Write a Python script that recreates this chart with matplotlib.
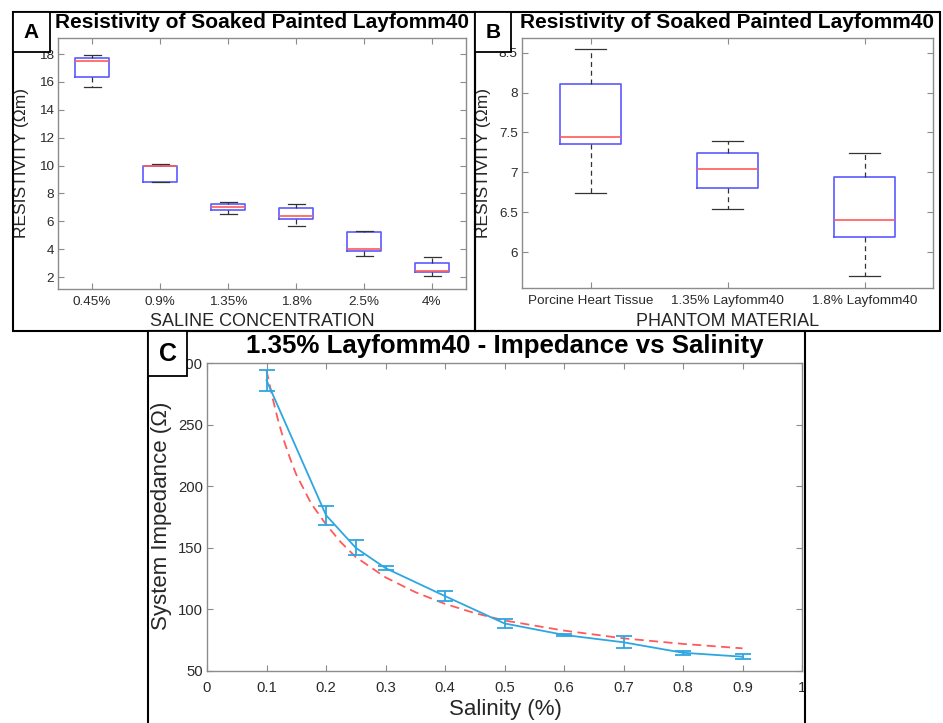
import matplotlib
matplotlib.use("Agg")
import matplotlib.pyplot as plt
from matplotlib.patches import Rectangle

plt.rcParams['font.family'] = ['Liberation Sans', 'DejaVu Sans']

# ---------------- Data ----------------
# Panel A: resistivity vs saline concentration (box stats)
a_labels = ['0.45%', '0.9%', '1.35%', '1.8%', '2.5%', '4%']
a_whislo = [15.63, 8.80, 6.55, 5.69, 3.53, 2.05]
a_q1     = [16.37, 8.83, 6.81, 6.19, 3.84, 2.36]
a_med    = [17.52, 9.95, 7.05, 6.41, 4.01, 2.46]
a_q3     = [17.69, 10.00, 7.25, 6.93, 5.23, 3.03]
a_whishi = [17.90, 10.12, 7.41, 7.25, 5.33, 3.46]
a_yticks = [2, 4, 6, 8, 10, 12, 14, 16, 18]

# Panel B: resistivity vs phantom material (box stats)
b_labels = ['Porcine Heart Tissue', '1.35% Layfomm40', '1.8% Layfomm40']
b_whislo = [6.746, 6.546, 5.696]
b_q1     = [7.358, 6.808, 6.187]
b_med    = [7.446, 7.046, 6.396]
b_q3     = [8.108, 7.246, 6.946]
b_whishi = [8.546, 7.396, 7.246]
b_yticks = [6, 6.5, 7, 7.5, 8, 8.5]
b_yticklabels = ['6', '6.5', '7', '7.5', '8', '8.5']

# Panel C: impedance vs salinity
c_x    = [0.1, 0.2, 0.25, 0.3, 0.4, 0.5, 0.6, 0.7, 0.8, 0.9]
c_y    = [286.0, 176.5, 150.0, 133.5, 110.8, 88.6, 79.3, 73.3, 64.8, 61.6]
c_err  = [8.4, 7.7, 6.0, 1.6, 4.2, 3.9, 0.9, 4.9, 1.5, 1.9]
fit_x  = [0.1, 0.11, 0.12, 0.13, 0.14, 0.15, 0.175, 0.2, 0.225, 0.25, 0.3,
          0.35, 0.4, 0.45, 0.5, 0.6, 0.7, 0.8, 0.9]
fit_y  = [294.0, 272.0, 252.5, 236.0, 222.0, 209.5, 186.0, 169.0, 154.5, 142.5,
          126.0, 114.0, 104.5, 97.0, 91.0, 82.8, 76.5, 72.0, 68.4]
c_xticks = [0, 0.1, 0.2, 0.3, 0.4, 0.5, 0.6, 0.7, 0.8, 0.9, 1]
c_xticklabels = ['0', '0.1', '0.2', '0.3', '0.4', '0.5', '0.6', '0.7', '0.8', '0.9', '1']
c_yticks = [50, 100, 150, 200, 250, 300]

# ---------------- Figure ----------------
W, H = 943, 723
fig = plt.figure(figsize=(W / 100, H / 100), dpi=100)


def ax_rect(l, t, r, b):
    return [l / W, 1 - b / H, (r - l) / W, (b - t) / H]


def style_axes(ax, tick_fs, pad_x, pad_y):
    for s in ax.spines.values():
        s.set_color('#8c8c8c')
        s.set_linewidth(1.0)
    ax.tick_params(direction='in', top=True, right=True, length=4, width=0.8,
                   color='#8c8c8c', labelcolor='#2a2a2a', labelsize=tick_fs)
    ax.tick_params(axis='x', pad=pad_x)
    ax.tick_params(axis='y', pad=pad_y)


def box_stats(labels, lo, q1, med, q3, hi):
    return [dict(label=l, whislo=a, q1=b, med=c, q3=d, whishi=e)
            for l, a, b, c, d, e in zip(labels, lo, q1, med, q3, hi)]


box_kw = dict(
    showfliers=False, patch_artist=False,
    boxprops=dict(color='#5a5aff', linewidth=1.2),
    medianprops=dict(color='#ff5a5a', linewidth=1.2),
    whiskerprops=dict(color='#333333', linewidth=0.9, linestyle=(0, (4, 3))),
    capprops=dict(color='#333333', linewidth=0.9),
)

# Panel A
axA = fig.add_axes(ax_rect(58, 38, 466, 289))
statsA = box_stats(a_labels, a_whislo, a_q1, a_med, a_q3, a_whishi)
posA = list(range(1, len(a_labels) + 1))
axA.bxp(statsA, positions=posA, widths=0.5, **box_kw)
axA.set_xlim(0.5, len(a_labels) + 0.5)
axA.set_ylim(1.14, 19.15)
axA.set_yticks(a_yticks)
axA.set_xticks(posA)
axA.set_xticklabels(a_labels)
style_axes(axA, 9.7, 5, 3)

# Panel B
axB = fig.add_axes(ax_rect(522, 38, 933, 288))
statsB = box_stats(b_labels, b_whislo, b_q1, b_med, b_q3, b_whishi)
posB = list(range(1, len(b_labels) + 1))
axB.bxp(statsB, positions=posB, widths=0.45, **box_kw)
axB.set_xlim(0.5, len(b_labels) + 0.5)
axB.set_ylim(5.55, 8.683)
axB.set_yticks(b_yticks)
axB.set_yticklabels(b_yticklabels)
axB.set_xticks(posB)
axB.set_xticklabels(b_labels)
style_axes(axB, 9.7, 5, 3)

# Panel C
axC = fig.add_axes(ax_rect(207, 363, 802, 671))
axC.plot(fit_x, fit_y, color='#ff5a5a', linestyle=(0, (5, 3)), linewidth=1.3, zorder=2)
axC.errorbar(c_x, c_y, yerr=c_err, color='#2ea6e0', linewidth=1.3,
             elinewidth=1.3, capsize=5.5, capthick=1.3, zorder=3)
axC.set_xlim(0, 1)
axC.set_ylim(50, 300)
axC.set_xticks(c_xticks)
axC.set_xticklabels(c_xticklabels)
axC.set_yticks(c_yticks)
style_axes(axC, 10.7, 7, 3)

# ---------------- Text ----------------
fig.text(262 / W, 1 - 23 / H, 'Resistivity of Soaked Painted Layfomm40',
         ha='center', va='center', fontsize=15, fontweight='bold')
fig.text(727 / W, 1 - 23 / H, 'Resistivity of Soaked Painted Layfomm40',
         ha='center', va='center', fontsize=15, fontweight='bold')
fig.text(505 / W, 1 - 346 / H, '1.35% Layfomm40 - Impedance vs Salinity',
         ha='center', va='center', fontsize=18.6, fontweight='bold')

lab_col = '#262626'
fig.text(22 / W, 1 - 163 / H, 'RESISTIVITY (Ωm)', rotation=90,
         ha='center', va='center', fontsize=12.5, color=lab_col)
fig.text(262 / W, 1 - 322 / H, 'SALINE CONCENTRATION',
         ha='center', va='center', fontsize=13, color=lab_col)
fig.text(484 / W, 1 - 163 / H, 'RESISTIVITY (Ωm)', rotation=90,
         ha='center', va='center', fontsize=12.5, color=lab_col)
fig.text(728 / W, 1 - 322 / H, 'PHANTOM MATERIAL',
         ha='center', va='center', fontsize=13, color=lab_col)
fig.text(161 / W, 1 - 516 / H, 'System Impedance (Ω)', rotation=90,
         ha='center', va='center', fontsize=16, color=lab_col)
fig.text(505 / W, 1 - 709 / H, 'Salinity (%)',
         ha='center', va='center', fontsize=16, color=lab_col)

# ---------------- Panel frames and letter boxes ----------------
def frame(l, t, r, b, lw=1.5, fill=False, z=5):
    fig.patches.append(Rectangle((l / W, 1 - b / H), (r - l) / W, (b - t) / H,
                                 transform=fig.transFigure, fill=fill,
                                 facecolor='white', edgecolor='black',
                                 linewidth=lw, zorder=z))

frame(13, 12, 475, 331)
frame(475, 12, 940, 331)
frame(148, 331, 805, 730)

frame(13, 12, 50, 52, lw=1.3, fill=True, z=6)
frame(475, 12, 511, 52, lw=1.3, fill=True, z=6)
frame(148, 331, 187, 376, lw=1.3, fill=True, z=6)

fig.text(31.5 / W, 1 - 32.5 / H, 'A', ha='center', va='center',
         fontsize=15, fontweight='bold', zorder=7)
fig.text(493 / W, 1 - 32.5 / H, 'B', ha='center', va='center',
         fontsize=15, fontweight='bold', zorder=7)
fig.text(167.5 / W, 1 - 354 / H, 'C', ha='center', va='center',
         fontsize=18, fontweight='bold', zorder=7)

fig.savefig('out.png', dpi=100)
